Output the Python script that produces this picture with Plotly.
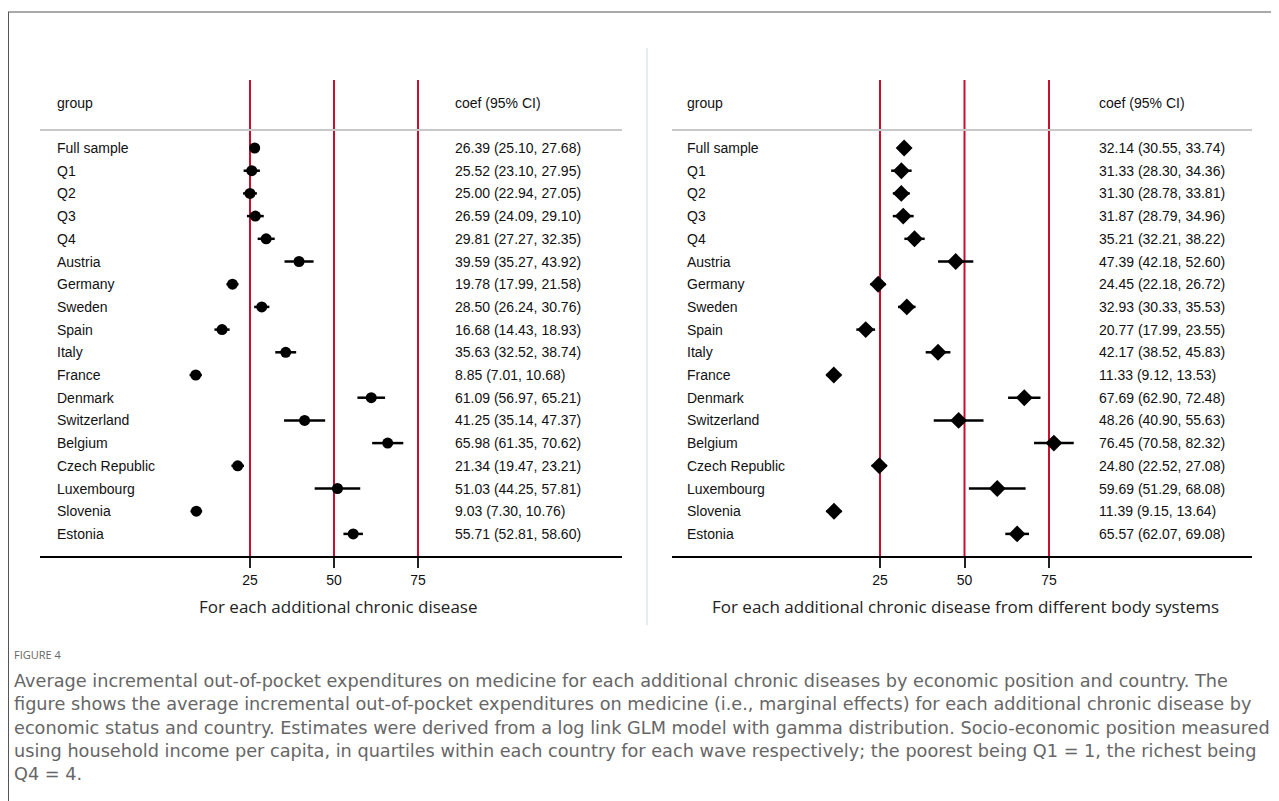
import plotly.graph_objects as go

groups = ["Full sample", "Q1", "Q2", "Q3", "Q4", "Austria", "Germany", "Sweden", "Spain",
          "Italy", "France", "Denmark", "Switzerland", "Belgium", "Czech Republic",
          "Luxembourg", "Slovenia", "Estonia"]

left_coef = [26.39, 25.52, 25.00, 26.59, 29.81, 39.59, 19.78, 28.50, 16.68, 35.63, 8.85,
             61.09, 41.25, 65.98, 21.34, 51.03, 9.03, 55.71]
left_lo = [25.10, 23.10, 22.94, 24.09, 27.27, 35.27, 17.99, 26.24, 14.43, 32.52, 7.01,
           56.97, 35.14, 61.35, 19.47, 44.25, 7.30, 52.81]
left_hi = [27.68, 27.95, 27.05, 29.10, 32.35, 43.92, 21.58, 30.76, 18.93, 38.74, 10.68,
           65.21, 47.37, 70.62, 23.21, 57.81, 10.76, 58.60]

right_coef = [32.14, 31.33, 31.30, 31.87, 35.21, 47.39, 24.45, 32.93, 20.77, 42.17, 11.33,
              67.69, 48.26, 76.45, 24.80, 59.69, 11.39, 65.57]
right_lo = [30.55, 28.30, 28.78, 28.79, 32.21, 42.18, 22.18, 30.33, 17.99, 38.52, 9.12,
            62.90, 40.90, 70.58, 22.52, 51.29, 9.15, 62.07]
right_hi = [33.74, 34.36, 33.81, 34.96, 38.22, 52.60, 26.72, 35.53, 23.55, 45.83, 13.53,
            72.48, 55.63, 82.32, 27.08, 68.08, 13.64, 69.08]

ref_lines = [25, 50, 75]
tick_vals = [25, 50, 75]
left_title = "For each additional chronic disease"
right_title = "For each additional chronic disease from different body systems"

caption_head = "FIGURE 4"
caption_lines = [
    "Average incremental out-of-pocket expenditures on medicine for each additional chronic diseases by economic position and country. The",
    "figure shows the average incremental out-of-pocket expenditures on medicine (i.e., marginal effects) for each additional chronic disease by",
    "economic status and country. Estimates were derived from a log link GLM model with gamma distribution. Socio-economic position measured",
    "using household income per capita, in quartiles within each country for each wave respectively; the poorest being Q1 = 1, the richest being",
    "Q4 = 4.",
]

OFF = 8  # page body margin
W, H = 1279 - OFF, 801 - OFF
def px(x):
    return (x - OFF) / W
def py(y):
    return 1 - (y - OFF) / H

row0, drow = 148, 22.7
top_px, axis_px = 80, 556
y_top = (top_px - row0) / drow
y_bot = (axis_px - row0) / drow
rows = list(range(len(groups)))

RED = "#c8102e"
TXT = dict(family="Liberation Sans, Arial", size=14, color="#111")

fig = go.Figure()

panels = [
    dict(xa="x", ya="y", coef=left_coef, lo=left_lo, hi=left_hi, symbol="circle", size=11,
         ax0=40, ax1=622, zero=166, scale=3.36, grp_x=55, coef_x=453, title=left_title, title_x=338),
    dict(xa="x2", ya="y2", coef=right_coef, lo=right_lo, hi=right_hi, symbol="diamond", size=13,
         ax0=672, ax1=1252, zero=795.5, scale=3.38, grp_x=685, coef_x=1097, title=right_title, title_x=965),
]

annotations = []
shapes = []
for i, p in enumerate(panels):
    fig.add_trace(go.Scatter(
        x=p["coef"], y=rows, xaxis=p["xa"], yaxis=p["ya"], mode="markers",
        marker=dict(symbol=p["symbol"], size=p["size"], color="black"),
        error_x=dict(type="data", symmetric=False,
                     array=[h - c for h, c in zip(p["hi"], p["coef"])],
                     arrayminus=[c - l for c, l in zip(p["coef"], p["lo"])],
                     thickness=2.5, width=0, color="black"),
        showlegend=False, hoverinfo="skip"))
    xr = [(p["ax0"] - p["zero"]) / p["scale"], (p["ax1"] - p["zero"]) / p["scale"]]
    suffix = "" if i == 0 else "2"
    fig.update_layout(**{
        "xaxis" + suffix: dict(domain=[px(p["ax0"]), px(p["ax1"])], range=xr, anchor=p["ya"],
                               tickvals=tick_vals, ticks="outside", ticklen=10, tickwidth=1.5,
                               tickcolor="#222", showline=True, linecolor="black", linewidth=1.5,
                               showgrid=False, zeroline=False,
                               tickfont=dict(family="Liberation Sans, Arial", size=14, color="#111")),
        "yaxis" + suffix: dict(domain=[py(axis_px), py(top_px)], range=[y_bot, y_top], anchor=p["xa"],
                               visible=False, showgrid=False, zeroline=False),
    })
    for v in ref_lines:
        shapes.append(dict(type="line", xref=p["xa"], yref=p["ya"] + " domain", x0=v, x1=v, y0=0, y1=1,
                           line=dict(color=RED, width=2), layer="below"))
    shapes.append(dict(type="line", xref="paper", yref="paper", x0=px(p["ax0"]), x1=px(p["ax1"]),
                       y0=py(130), y1=py(130), line=dict(color="#c8c8c8", width=2)))
    annotations.append(dict(x=px(p["grp_x"]), y=py(103), xref="paper", yref="paper", text="group",
                            showarrow=False, xanchor="left", yanchor="middle", font=TXT))
    annotations.append(dict(x=px(p["coef_x"]), y=py(103), xref="paper", yref="paper", text="coef (95% CI)",
                            showarrow=False, xanchor="left", yanchor="middle", font=TXT))
    for r, g, c, l, h in zip(rows, groups, p["coef"], p["lo"], p["hi"]):
        annotations.append(dict(x=px(p["grp_x"]), y=r, xref="paper", yref=p["ya"], text=g,
                                showarrow=False, xanchor="left", yanchor="middle", font=TXT))
        annotations.append(dict(x=px(p["coef_x"]), y=r, xref="paper", yref=p["ya"],
                                text=f"{c:.2f} ({l:.2f}, {h:.2f})",
                                showarrow=False, xanchor="left", yanchor="middle", font=TXT))
    annotations.append(dict(x=px(p["title_x"]), y=py(606), xref="paper", yref="paper", text=p["title"],
                            showarrow=False, xanchor="center", yanchor="middle",
                            font=dict(family="Open Sans, Noto Sans", size=17, color="#222")))

# frame and separator
shapes.append(dict(type="line", xref="paper", yref="paper", x0=px(8), x1=1, y0=py(12), y1=py(12),
                   line=dict(color="#555", width=1)))
shapes.append(dict(type="line", xref="paper", yref="paper", x0=px(8.5), x1=px(8.5), y0=py(12), y1=0,
                   line=dict(color="#555", width=1)))
shapes.append(dict(type="line", xref="paper", yref="paper", x0=px(647), x1=px(647), y0=py(48), y1=py(625),
                   line=dict(color="#e3edf3", width=2)))

annotations.append(dict(x=px(12), y=py(654), xref="paper", yref="paper", text=caption_head,
                        showarrow=False, xanchor="left", yanchor="middle",
                        font=dict(family="Open Sans, Noto Sans", size=11, color="#666")))
for k, line in enumerate(caption_lines):
    annotations.append(dict(x=px(12), y=py(681 + k * 23.3), xref="paper", yref="paper", text=line,
                            showarrow=False, xanchor="left", yanchor="middle",
                            font=dict(family="DejaVu Sans", size=17.7, color="#666")))

fig.update_layout(width=W, height=H, margin=dict(l=0, r=0, t=0, b=0),
                  paper_bgcolor="white", plot_bgcolor="white",
                  shapes=shapes, annotations=annotations)

fig.write_html("out.html")
